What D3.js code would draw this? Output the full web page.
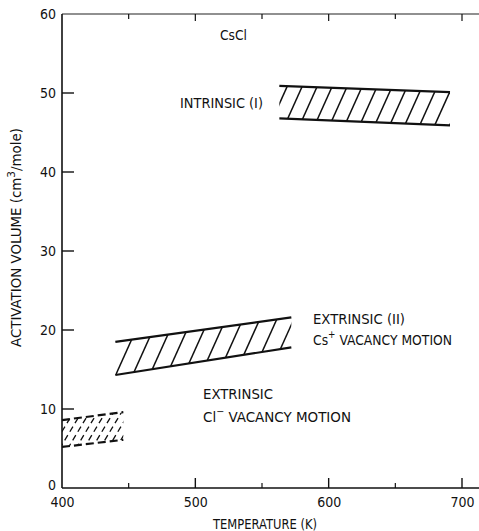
<!DOCTYPE html>
<html>
<head>
<meta charset="utf-8">
<script src="https://cdn.jsdelivr.net/npm/d3@7"></script>
<style>
    body { margin: 0; background: white; }
    #canvas-div { width: 479px; height: 531px; }
    text { font-family: "Liberation Sans Narrow", "DejaVu Sans Condensed", "Arial Narrow", sans-serif; fill: #111; }
</style>
</head>
<body>
<div id="canvas-div"></div>
<script>
// axis ticks
const tempMajor = [400, 500, 600, 700];
const tempMinor = [450, 550, 650];
const volumeTicks = [0, 10, 20, 30, 40, 50, 60];

// bands: temperature ends, upper and lower edge values at those ends
const intrinsicTemp = [563, 691];
const intrinsicUpper = [50.9, 50.1];
const intrinsicLower = [46.8, 45.9];

const csTemp = [440, 572];
const csUpper = [18.5, 21.6];
const csLower = [14.3, 17.8];

const clTemp = [400, 446];
const clUpper = [8.6, 9.6];
const clLower = [5.2, 6.1];

const width = 479, height = 531;
const margin = { left: 62, right: 0, top: 14, bottom: 43 };

const svg = d3.select("#canvas-div")
    .append("svg")
    .attr("width", width)
    .attr("height", height)
    .style("background-color", "white");

const xScale = d3.scaleLinear()
    .domain([400, 400 + (width - margin.left) / (400 / 300)])
    .range([margin.left, width - margin.right]);

const yScale = d3.scaleLinear()
    .domain([0, 60])
    .range([height - margin.bottom, margin.top]);

const bottomY = height - margin.bottom;

// frame lines
svg.append("line")
    .attr("x1", margin.left).attr("x2", width)
    .attr("y1", bottomY).attr("y2", bottomY)
    .attr("stroke", "#111").attr("stroke-width", 1.6);
svg.append("line")
    .attr("x1", margin.left).attr("x2", width)
    .attr("y1", margin.top).attr("y2", margin.top)
    .attr("stroke", "#222").attr("stroke-width", 1.2);
svg.append("line")
    .attr("x1", margin.left).attr("x2", margin.left)
    .attr("y1", margin.top).attr("y2", bottomY)
    .attr("stroke", "#111").attr("stroke-width", 1.6);

// bottom axis
const xAxis = d3.axisBottom(xScale)
    .tickValues(tempMajor)
    .tickSize(0)
    .tickPadding(9)
    .tickFormat(d3.format("d"));

const gx = svg.append("g")
    .attr("transform", "translate(0," + bottomY + ")")
    .call(xAxis);
gx.select(".domain").remove();
gx.selectAll("text").style("font-size", "14px").attr("fill", "#111");

svg.selectAll(".x-major")
    .data(tempMajor.slice(1))
    .enter()
    .append("line")
    .attr("x1", d => xScale(d)).attr("x2", d => xScale(d))
    .attr("y1", bottomY).attr("y2", bottomY - 10)
    .attr("stroke", "#111").attr("stroke-width", 1.4);
svg.selectAll(".x-minor")
    .data(tempMinor)
    .enter()
    .append("line")
    .attr("x1", d => xScale(d)).attr("x2", d => xScale(d))
    .attr("y1", bottomY).attr("y2", bottomY - 5)
    .attr("stroke", "#111").attr("stroke-width", 1.2);

// top ticks
svg.selectAll(".x-top")
    .data(tempMajor.slice(1).concat(tempMinor))
    .enter()
    .append("line")
    .attr("x1", d => xScale(d)).attr("x2", d => xScale(d))
    .attr("y1", margin.top).attr("y2", d => margin.top + (d % 100 === 0 ? 7 : 5))
    .attr("stroke", "#111").attr("stroke-width", 1.2);

// left axis
const yAxis = d3.axisLeft(yScale)
    .tickValues(volumeTicks)
    .tickSize(0)
    .tickPadding(6);

const gy = svg.append("g")
    .attr("transform", "translate(" + margin.left + ",0)")
    .call(yAxis);
gy.select(".domain").remove();
gy.selectAll("text").style("font-size", "14px").attr("fill", "#111");
gy.selectAll(".tick").filter(d => d === 0).select("text").attr("dy", "0.1em");

svg.selectAll(".y-tick")
    .data(volumeTicks.slice(1, -1))
    .enter()
    .append("line")
    .attr("x1", margin.left).attr("x2", margin.left + 12)
    .attr("y1", d => yScale(d)).attr("y2", d => yScale(d))
    .attr("stroke", "#111").attr("stroke-width", 1.4);

// axis titles
svg.append("text")
    .attr("x", 213)
    .attr("y", 529)
    .attr("textLength", 104)
    .attr("lengthAdjust", "spacingAndGlyphs")
    .style("font-size", "14px")
    .text("TEMPERATURE (K)");

const yTitle = svg.append("text")
    .attr("transform", "translate(21,347) rotate(-90)")
    .attr("textLength", 219)
    .attr("lengthAdjust", "spacingAndGlyphs")
    .style("font-size", "14px");
yTitle.append("tspan").text("ACTIVATION VOLUME (cm");
yTitle.append("tspan").attr("dy", -6).style("font-size", "11px").text("3");
yTitle.append("tspan").attr("dy", 6).text("/mole)");

// hatched bands
function drawBand(id, temps, upper, lower, spacing, lean, dashed) {
    const ul = [xScale(temps[0]), yScale(upper[0])];
    const ur = [xScale(temps[1]), yScale(upper[1])];
    const lr = [xScale(temps[1]), yScale(lower[1])];
    const ll = [xScale(temps[0]), yScale(lower[0])];

    svg.append("clipPath")
        .attr("id", id)
        .append("polygon")
        .attr("points", [ul, ur, lr, ll].map(p => p.join(",")).join(" "));

    const top = Math.min(ul[1], ur[1]) - 2;
    const bottom = Math.max(ll[1], lr[1]) + 2;
    const slant = (bottom - top) * lean;
    const starts = d3.range(ll[0] - slant + spacing * 0.6, lr[0] + spacing, spacing);

    svg.append("g")
        .attr("clip-path", "url(#" + id + ")")
        .selectAll("line")
        .data(starts)
        .enter()
        .append("line")
        .attr("x1", d => d).attr("y1", bottom)
        .attr("x2", d => d + slant).attr("y2", top)
        .attr("stroke", "#111")
        .attr("stroke-width", dashed ? 1.3 : 1.5)
        .attr("stroke-dasharray", dashed ? "6,4" : null);

    const edgeDash = dashed ? "8,4" : null;
    [[ul, ur], [ll, lr]].forEach(e => {
        svg.append("line")
            .attr("x1", e[0][0]).attr("y1", e[0][1])
            .attr("x2", e[1][0]).attr("y2", e[1][1])
            .attr("stroke", "#111")
            .attr("stroke-width", 2.2)
            .attr("stroke-dasharray", edgeDash);
    });
}

drawBand("clip-intrinsic", intrinsicTemp, intrinsicUpper, intrinsicLower, 15, 0.45, false);
drawBand("clip-cs", csTemp, csUpper, csLower, 17, 0.45, false);
drawBand("clip-cl", clTemp, clUpper, clLower, 8, 0.6, true);

// annotations
function label(x, y, len) {
    return svg.append("text")
        .attr("x", x).attr("y", y)
        .attr("textLength", len)
        .attr("lengthAdjust", "spacingAndGlyphs")
        .style("font-size", "14px");
}

label(220, 40, 27).text("CsCl");
label(180, 108, 83).text("INTRINSIC (I)");
label(313, 324, 92).text("EXTRINSIC (II)");

const csLabel = label(313, 345, 139);
csLabel.append("tspan").text("Cs");
csLabel.append("tspan").attr("dy", -7).style("font-size", "10px").text("+");
csLabel.append("tspan").attr("dy", 7).text(" VACANCY MOTION");

label(203, 399, 70).text("EXTRINSIC");

const clLabel = label(203, 422, 148);
clLabel.append("tspan").text("Cl");
clLabel.append("tspan").attr("dy", -7).style("font-size", "10px").text("\u2212");
clLabel.append("tspan").attr("dy", 7).text(" VACANCY MOTION");
</script>
</body>
</html>
